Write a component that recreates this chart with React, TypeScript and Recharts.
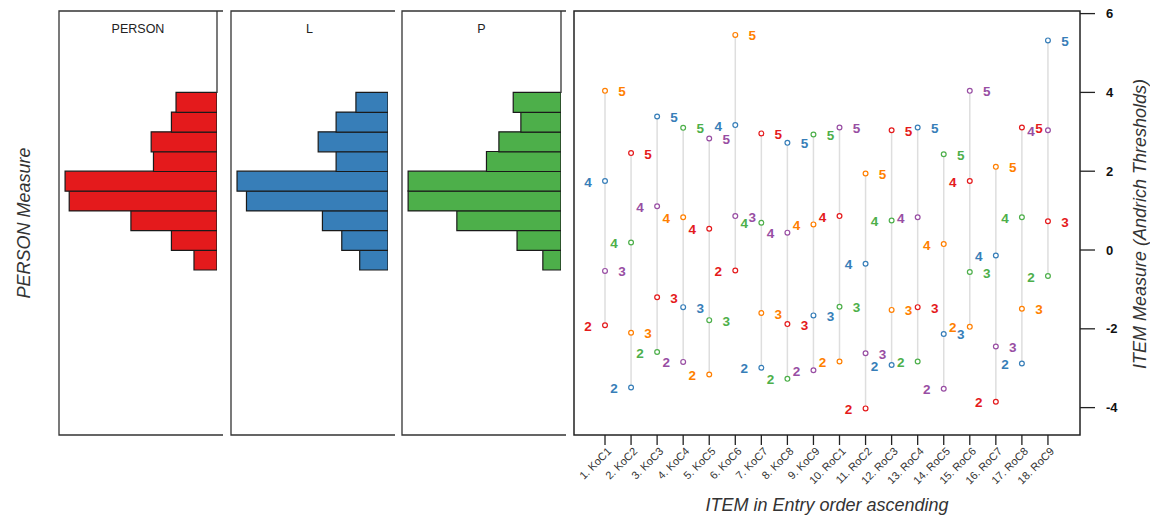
import React from 'react';
import { BarChart, Bar, XAxis, YAxis, ComposedChart, Scatter } from 'recharts';

// ---------- data ----------
const binMids = [-0.25, 0.25, 0.75, 1.25, 1.75, 2.25, 2.75, 3.25, 3.75];
const personCounts = [5.0, 9.9, 18.7, 32.1, 33.0, 13.8, 14.3, 9.9, 8.9];
const lCounts = [6.0, 9.8, 13.9, 30.0, 32.0, 11.0, 14.8, 11.0, 6.8];
const pCounts = [1.9, 4.6, 10.9, 16.0, 16.0, 7.8, 6.5, 4.2, 5.0];

const itemLabels = [
  '1. KoC1', '2. KoC2', '3. KoC3', '4. KoC4', '5. KoC5', '6. KoC6', '7. KoC7', '8. KoC8', '9. KoC9',
  '10. RoC1', '11. RoC2', '12. RoC3', '13. RoC4', '14. RoC5', '15. RoC6', '16. RoC7', '17. RoC8', '18. RoC9',
];
const thresholdNames = ['2', '3', '4', '5'];
const t2 = [-1.91, -3.49, -2.59, -2.84, -3.16, -0.52, -2.99, -3.27, -3.05, -2.83, -4.02, -2.92, -2.83, -3.52, -1.95, -3.85, -2.88, -0.66];
const t3 = [-0.53, -2.10, -1.20, -1.45, -1.78, 0.86, -1.60, -1.88, -1.66, -1.44, -2.62, -1.52, -1.45, -2.13, -0.56, -2.45, -1.49, 0.73];
const t4 = [1.75, 0.19, 1.11, 0.83, 0.54, 3.17, 0.69, 0.44, 0.65, 0.86, -0.35, 0.75, 0.83, 0.15, 1.75, -0.14, 0.83, 3.04];
const t5 = [4.04, 2.46, 3.39, 3.10, 2.83, 5.46, 2.96, 2.72, 2.93, 3.11, 1.94, 3.04, 3.11, 2.43, 4.04, 2.11, 3.11, 5.32];
const yTicks = [-4, -2, 0, 2, 4, 6];

// ---------- styles ----------
const FONT = '"Liberation Sans", Arial, Helvetica, sans-serif';
const yDomain: [number, number] = [-4.695, 6.066];
const xDomain: [number, number] = [-0.19, 19.23];
const palette = ['#E41A1C', '#377EB8', '#4DAF4A', '#984EA3', '#FF7F00'];
const PLOT_TOP = 11;
const PLOT_H = 424;

function Hist({ counts, color, left, width }: { counts: number[]; color: string; left: number; width: number }) {
  const data = binMids.map((m, i) => ({ mid: m, count: counts[i] }));
  const max = Math.max(...counts);
  return (
    <div style={{ position: 'absolute', left, top: PLOT_TOP, width, height: PLOT_H }}>
      <BarChart
        width={width}
        height={PLOT_H}
        data={data}
        layout="vertical"
        margin={{ top: 0, right: 0, bottom: 0, left: 0 }}
        barCategoryGap={0}
        barGap={0}
      >
        <XAxis type="number" domain={[0, max * 1.04]} reversed hide allowDataOverflow />
        <YAxis type="number" dataKey="mid" domain={yDomain} reversed hide allowDataOverflow />
        <Bar dataKey="count" fill={color} stroke="#1a1a1a" strokeWidth={1.2} isAnimationActive={false} />
      </BarChart>
    </div>
  );
}

const seriesList = [t2, t3, t4, t5];

const makeShape = (j: number) => (props: any) => {
  const { cx, cy, payload } = props;
  if (cx == null || cy == null) return <g />;
  const color = palette[(payload.item + 3 * j) % 5];
  const right = j % 2 === 1;
  return (
    <g>
      <circle cx={cx} cy={cy} r={2.4} fill="#fff" stroke={color} strokeWidth={1.2} />
      <text
        x={cx + (right ? 17 : -17)}
        y={cy + 5.5}
        textAnchor="middle"
        fill={color}
        fontSize={13.5}
        fontWeight="bold"
        fontFamily={FONT}
      >
        {thresholdNames[j]}
      </text>
    </g>
  );
};

const XTick = (props: any) => {
  const { x, y, payload } = props;
  const tx = x + 7;
  const ty = y + 5;
  return (
    <text
      x={tx}
      y={ty}
      transform={`rotate(-45 ${tx} ${ty})`}
      textAnchor="end"
      fontSize={11}
      fill="#333"
      fontFamily={FONT}
    >
      {itemLabels[payload.value - 1]}
    </text>
  );
};

const emptyShape = () => <g />;

function ItemMap() {
  const chartLeft = 554;
  const width = 596;
  const height = 516;
  const itemTicks = itemLabels.map((_, i) => i + 1);
  return (
    <div style={{ position: 'absolute', left: chartLeft, top: 0, width, height }}>
      <ComposedChart width={width} height={height} margin={{ top: PLOT_TOP, right: 10, bottom: 11, left: 20 }}>
        <XAxis
          type="number"
          dataKey="x"
          domain={xDomain}
          ticks={itemTicks}
          interval={0}
          tickSize={10}
          height={70}
          axisLine={false}
          tickLine={{ stroke: '#222', strokeWidth: 1.3 }}
          tick={<XTick />}
          allowDataOverflow
        />
        <YAxis
          type="number"
          dataKey="y"
          orientation="right"
          domain={yDomain}
          ticks={yTicks}
          width={60}
          tickSize={15}
          tickMargin={11}
          axisLine={false}
          tickLine={{ stroke: '#222', strokeWidth: 1.3 }}
          tick={{ fontSize: 13, fontWeight: 'bold', fill: '#111', fontFamily: FONT }}
          allowDataOverflow
        />
        {itemLabels.map((_, i) => {
          const vals = seriesList.map((s) => s[i]);
          const seg = [
            { x: i + 1, y: Math.min(...vals) },
            { x: i + 1, y: Math.max(...vals) },
          ];
          return (
            <Scatter
              key={'seg' + i}
              data={seg}
              line={{ stroke: '#dedede', strokeWidth: 1.5 }}
              shape={emptyShape}
              isAnimationActive={false}
            />
          );
        })}
        {seriesList.map((s, j) => (
          <Scatter
            key={'thr' + j}
            data={s.map((v, i) => ({ x: i + 1, y: v, item: i }))}
            shape={makeShape(j)}
            isAnimationActive={false}
          />
        ))}
      </ComposedChart>
    </div>
  );
}

export default function App() {
  const panels = [
    { title: 'PERSON', left: 59, width: 158, counts: personCounts, color: palette[0], rightLine: true },
    { title: 'L', left: 231, width: 157, counts: lCounts, color: palette[1], rightLine: false },
    { title: 'P', left: 402, width: 159, counts: pCounts, color: palette[2], rightLine: true },
  ];
  return (
    <div style={{ position: 'absolute', left: 0, top: 0, width: 1150, height: 516, background: '#fff', fontFamily: FONT }}>
      {panels.map((p) => (
        <Hist key={p.title} counts={p.counts} color={p.color} left={p.left} width={p.width} />
      ))}
      <ItemMap />
      <svg width={1150} height={516} style={{ position: 'absolute', left: 0, top: 0, pointerEvents: 'none' }}>
        {panels.map((p) => (
          <g key={'box' + p.title} stroke="#333" strokeWidth={1.3} fill="none">
            <path d={`M ${p.left + 164} ${PLOT_TOP} H ${p.left} V ${PLOT_TOP + PLOT_H} H ${p.left + 164}`} />
            {p.rightLine && <line x1={p.left + p.width} y1={PLOT_TOP} x2={p.left + p.width} y2={93} />}
          </g>
        ))}
        {panels.map((p) => (
          <text
            key={'t' + p.title}
            x={p.left + p.width / 2}
            y={33}
            textAnchor="middle"
            fontSize={12.5}
            fill="#222"
            fontFamily={FONT}
          >
            {p.title}
          </text>
        ))}
        <rect x={574} y={PLOT_TOP} width={506} height={PLOT_H} fill="none" stroke="#222" strokeWidth={1.5} />
        <text x={30} y={223} transform="rotate(-90 30 223)" textAnchor="middle" fontSize={18} fontStyle="italic" fill="#333" fontFamily={FONT}>
          PERSON Measure
        </text>
        <text x={1146} y={224} transform="rotate(-90 1146 224)" textAnchor="middle" fontSize={18} fontStyle="italic" fill="#333" fontFamily={FONT}>
          ITEM Measure (Andrich Thresholds)
        </text>
        <text x={827} y={510.5} textAnchor="middle" fontSize={18} fontStyle="italic" fill="#333" fontFamily={FONT}>
          ITEM in Entry order ascending
        </text>
      </svg>
    </div>
  );
}
